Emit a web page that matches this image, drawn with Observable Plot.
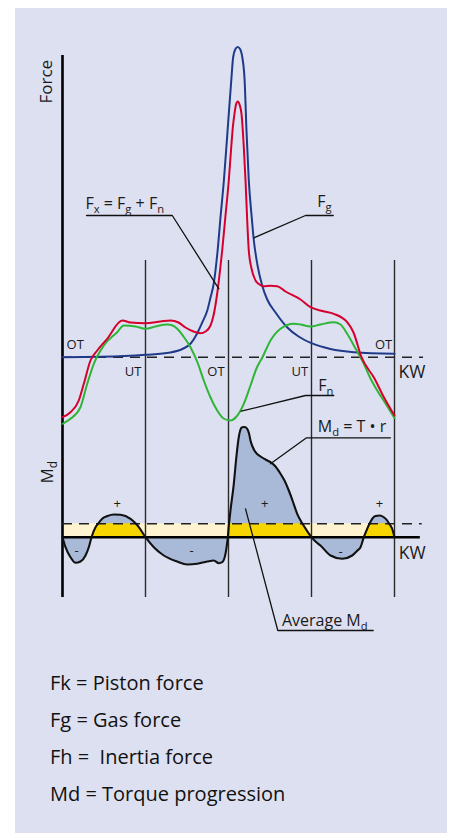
<!DOCTYPE html>
<html><head><meta charset="utf-8">
<script src="https://cdn.jsdelivr.net/npm/d3@7"></script>
<script src="https://cdn.jsdelivr.net/npm/@observablehq/plot@0.6"></script>
<style>
html,body{margin:0;padding:0;background:#fff;}
#page{position:relative;width:451px;height:833px;overflow:hidden;}
#panel{position:absolute;left:15px;top:8px;width:432px;height:825px;background:#dde0f0;}
#chart{position:absolute;left:0;top:0;}
#legend{position:absolute;left:50px;top:664px;font-family:"Open Sans",sans-serif;font-size:20px;line-height:37px;color:#111;white-space:pre;}
</style></head><body>
<div id="page"><div id="panel"></div><div id="chart"></div><div id="legend"></div></div>
<script>
// ---- data (crank angle in degrees, force / torque in relative units) ----
const crankAngles = [0, 180, 360, 540, 720];
const deadCenterLabels = ["OT", "UT", "OT", "UT", "OT"];

const gasForce = [[0,0],[82,0.4],[180,2.4],[234,4.7],[262,8.7],[278,13.7],[292,23.7],[303,34.7],[314,46.7],[321,59.7],[328,73.7],[336,104.7],[343,141.7],[350,176.7],[358,226.7],[366,276.7],[370,299.7],[375,308.2],[380,310.2],[385,308.2],[390,299.7],[395,276.7],[399,226.7],[404,176.7],[410,141.7],[415,116.7],[423,91.7],[433,71.7],[444,57.7],[462,44.7],[487,30],[512,20.7],[540,14],[581,8.2],[632,5],[720,3.4]];

const pistonForce = [[0,-60],[17.3,-55],[35.3,-43.3],[46.2,-26.6],[60.7,-3.3],[75.3,6.7],[96.9,18.4],[129.5,36.7],[147.5,34.7],[180,34],[212.5,35.7],[234.2,36.7],[251.6,34.7],[266.7,29.7],[284.1,25.7],[299.3,24],[310.1,25.7],[321,31.7],[327.5,41.7],[335.5,63.7],[341.6,86.7],[346.3,106.7],[353.5,141.7],[360.6,176.7],[365.9,210],[369.8,231.7],[373,243.4],[376.3,252.7],[380.2,255.7],[383.9,252.7],[388.2,243.4],[393.2,210],[396.9,176.7],[400.1,141.7],[404,106.7],[409.9,88.7],[418.6,76.7],[425.7,73.2],[435.9,71],[451.1,71.4],[465.6,71],[483.6,65.7],[516.2,57.7],[537.8,50],[563.9,46.2],[588.4,43.4],[617.4,35],[631.1,24.7],[648.4,0],[676.6,-21.3],[696.1,-39.3],[720,-58.3]];

const inertiaForce = [[0,-66.6],[17.3,-61.6],[39,-50],[53.6,-26.6],[67.9,-6.6],[89.6,11.7],[118.6,25],[132.9,31.7],[158.3,30.7],[180,28.4],[201.7,30.7],[227.1,32.7],[238.6,31.7],[248.8,28.4],[262.4,20.7],[277.6,10],[292.8,-5.3],[306.4,-23.3],[321,-40.3],[335.5,-53.3],[349.2,-61.3],[364.3,-63.3],[377.4,-59.3],[393.2,-46.6],[407.7,-28.3],[420.7,-11.3],[433.7,0],[451.1,16.7],[472.8,28.4],[501.6,33.4],[516.2,32.7],[537.8,30.7],[559.5,32.7],[588.4,35],[603,32.7],[617.4,23.4],[635.4,8.7],[653.4,-6.6],[667.9,-21.3],[682.5,-33.3],[700.5,-46.3],[720,-60.8]];

const torque = [[0,0],[6.5,-10],[17.3,-20],[28.2,-25.6],[39,-24.3],[49.9,-18.3],[57,-10],[62.9,0],[71.6,10],[77,13.4],[86.1,18.4],[97.6,21.2],[111.3,22.7],[125.8,22.4],[147.5,18.4],[159.4,13.4],[165.5,10],[180,0],[198,-10],[219.7,-18.3],[248.7,-24.3],[270.4,-27.3],[292.1,-26.6],[313.8,-24.3],[328.1,-23.3],[339,-26],[346.3,-25],[353.5,-16.6],[358.5,0],[361.1,13.4],[364.3,26.7],[371.5,53.4],[377.4,81.7],[382.3,100],[386,107.7],[389.7,110],[394.7,110.2],[400.6,108.4],[404.5,103.7],[407.7,96.7],[412,90.7],[418.6,85],[429.4,80.7],[440.2,77.7],[451.1,75],[461.9,70.7],[472.8,63.4],[481.4,56.7],[490.8,46.7],[498.8,36.7],[509,23.4],[520.5,13.4],[531.3,5.7],[540,0],[548.7,-4.3],[559.5,-8.3],[581.2,-18.3],[606.6,-21.6],[628.3,-18.3],[639.8,-13.3],[646.3,-10],[653.4,0],[660.8,8.4],[665.8,13.4],[671.6,18.4],[678.8,21.2],[688.1,21.7],[696.1,20.2],[704.1,16.7],[708.5,13.4],[715,8.4],[720,0]];

const averageTorque = 13.4;
const torqueSigns = ["-", "+", "-", "+", "-", "+"];

const legendLines = ["Fk = Piston force", "Fg = Gas force", "Fh =  Inertia force", "Md = Torque progression"];

// ---- layout constants (in chart units) ----
const TORQUE_BASE = -180;     // torque zero line position on the shared y scale
const GRID_TOP = 96.7, AXIS_TOP = 301.7, GRID_BOTTOM = -240.3;
const SUB_SHIFT = 4;

// annotation positions
const dcPos = [[27.5, 11.9], [152.9, -14.8], [332.9, -14.8], [514.6, -14.8], [696.2, 11.9]];
const signPos = [[30.4, -193.3], [118.6, -146.6], [279.8, -193.3], [438.7, -146.6], [602.9, -194.3], [687.5, -146.6]];
const callouts = [
  {text: "F_x = F_g + F_n", a: 49.9, f: 153.8},
  {text: "F_g", a: 552.4, f: 155.1},
  {text: "F_n", a: 554.5, f: -28.2},
  {text: "M_d = T \u2022 r", a: 553.7, f: -69.9},
  {text: "Average M_d", a: 475.9, f: -263.2}
];
const leaderLines = [
  ["fx", 52.1, 141.7], ["fx", 238.1, 141.7], ["fx", 339.1, 68.4],
  ["fg", 587.1, 141.7], ["fg", 527, 141.7], ["fg", 414.9, 119.4],
  ["fn", 588.4, -38.3], ["fn", 527, -38.3], ["fn", 387.5, -54],
  ["md", 711.3, -80.6], ["md", 529.2, -80.6], ["md", 451.1, -106.6],
  ["avg", 673.8, -273.3], ["avg", 466.9, -273.3], ["avg", 396.9, -151.6]
];
const axisTitles = [
  {text: "Force", a: -34.5, f: 275.5},
  {text: "M_d", a: -32.5, f: -115}
];
const kwPos = [[728.7, -15.2], [729.3, -196.2]];

const FONT = "Open Sans";
const ang = d => d[0], val = d => d[1];
const tq = d => TORQUE_BASE + d[1];

const chart = Plot.plot({
  width: 451,
  height: 650,
  x: {domain: [0, 720], range: [62, 394], axis: null},
  y: {domain: [0, 100], range: [356.7, 256.7], axis: null},
  style: {background: "transparent", overflow: "visible"},
  marks: [
    Plot.rect([averageTorque], {x1: () => 0, x2: () => 720, y1: () => TORQUE_BASE, y2: d => TORQUE_BASE + d, fill: "#fff4cf"}),
    Plot.areaY(torque, {x: ang, y1: () => TORQUE_BASE, y2: tq, fill: "#a9b9d8", curve: "monotone-x"}),
    Plot.areaY(torque, {x: ang, y1: () => TORQUE_BASE, y2: d => TORQUE_BASE + Math.max(0, Math.min(d[1], averageTorque)), fill: "#f6d500", curve: "monotone-x"}),
    Plot.ruleX(crankAngles.slice(1), {y1: GRID_BOTTOM, y2: GRID_TOP, stroke: "#2a2a2a", strokeWidth: 1.4}),
    Plot.ruleX(crankAngles.slice(0, 1), {y1: GRID_BOTTOM, y2: AXIS_TOP, stroke: "#000", strokeWidth: 2.6}),
    Plot.ruleY([0], {x1: 0, x2: 783, stroke: "#222", strokeWidth: 1.5, strokeDasharray: "10,7"}),
    Plot.ruleY([TORQUE_BASE + averageTorque], {x1: 0, x2: 780, stroke: "#222", strokeWidth: 1.4, strokeDasharray: "10,7"}),
    Plot.ruleY([TORQUE_BASE], {x1: 0, x2: 776, stroke: "#000", strokeWidth: 2.6}),
    Plot.line(torque, {x: ang, y: tq, stroke: "#111", strokeWidth: 2.1, curve: "monotone-x"}),
    Plot.line(gasForce, {x: ang, y: val, stroke: "#1f3a88", strokeWidth: 2, curve: "monotone-x"}),
    Plot.line(inertiaForce, {x: ang, y: val, stroke: "#2fb536", strokeWidth: 2, curve: "monotone-x"}),
    Plot.line(pistonForce, {x: ang, y: val, stroke: "#d5002d", strokeWidth: 2, curve: "monotone-x"}),
    Plot.line(leaderLines, {x: d => d[1], y: d => d[2], z: d => d[0], stroke: "#111", strokeWidth: 1.3}),
    Plot.text(deadCenterLabels, {x: (d, i) => dcPos[i][0], y: (d, i) => dcPos[i][1], text: d => d, fontSize: 13, fontFamily: FONT, fill: "#1a1a1a"}),
    Plot.text(torqueSigns, {x: (d, i) => signPos[i][0], y: (d, i) => signPos[i][1], text: d => d, fontSize: 13, fontFamily: FONT, fill: "#1a1a1a"}),
    Plot.text(kwPos, {x: d => d[0], y: d => d[1], text: () => "KW", fontSize: 17.5, textAnchor: "start", fontFamily: FONT, fill: "#1a1a1a"}),
    Plot.text(callouts, {x: "a", y: "f", text: "text", fontSize: 16, textAnchor: "start", fontFamily: FONT, fill: "#1a1a1a"}),
    Plot.text(axisTitles, {x: "a", y: "f", text: "text", fontSize: 17, rotate: -90, fontFamily: FONT, fill: "#1a1a1a"})
  ]
});

function applySubscripts(root) {
  root.querySelectorAll("text").forEach(t => {
    const s = t.textContent;
    if (!s.includes("_")) return;
    const parts = s.split(/_(.)/);
    while (t.firstChild) t.removeChild(t.firstChild);
    let shifted = false;
    parts.forEach((p, i) => {
      if (p === "") return;
      const ts = document.createElementNS("http://www.w3.org/2000/svg", "tspan");
      ts.textContent = p;
      if (i % 2 === 1) { ts.style.fontSize = "70%"; ts.setAttribute("dy", SUB_SHIFT); shifted = true; }
      else if (shifted) { ts.setAttribute("dy", -SUB_SHIFT); shifted = false; }
      t.appendChild(ts);
    });
  });
}
applySubscripts(chart);
document.getElementById("chart").appendChild(chart);

const legend = document.getElementById("legend");
legendLines.forEach(s => { const div = document.createElement("div"); div.textContent = s; legend.appendChild(div); });
</script>
</body></html>
